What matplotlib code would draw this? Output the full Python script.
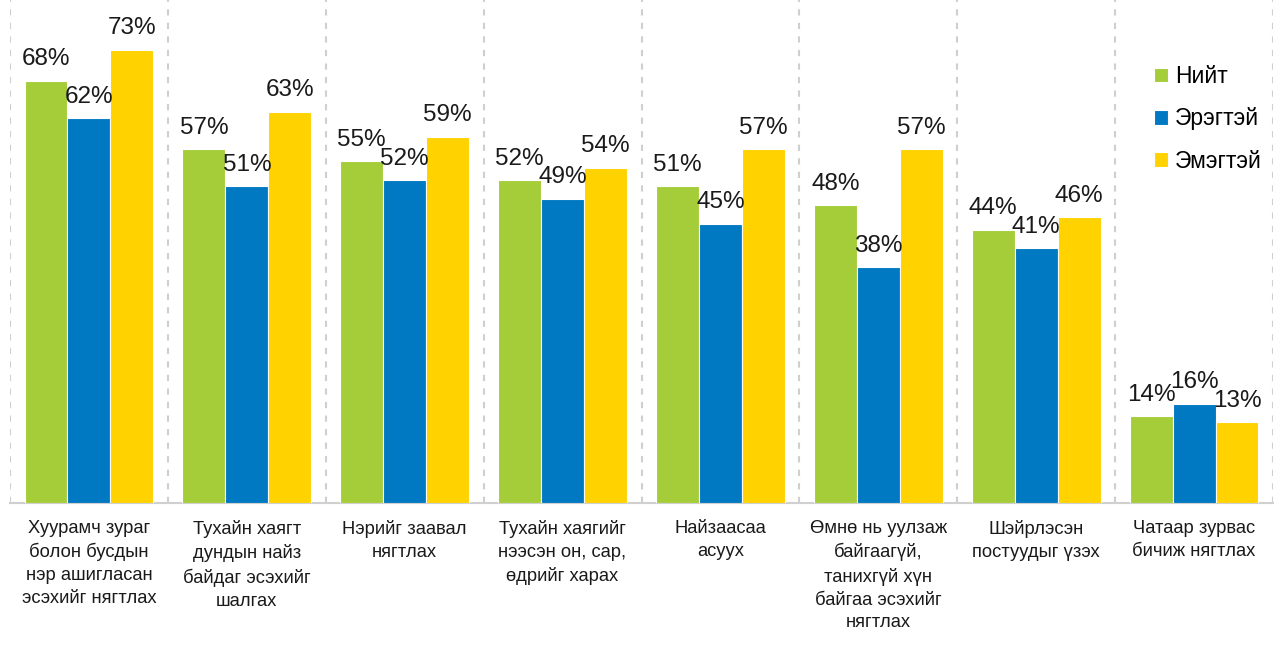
import matplotlib.pyplot as plt
import numpy as np

plt.rcParams['font.family'] = ['Liberation Sans', 'DejaVu Sans']

categories = [
    "Хуурамч зураг\nболон бусдын\nнэр ашигласан\nэсэхийг нягтлах",
    "Тухайн хаягт\nдундын найз\nбайдаг эсэхийг\nшалгах",
    "Нэрийг заавал\nнягтлах",
    "Тухайн хаягийг\nнээсэн он, сар,\nөдрийг харах",
    "Найзаасаа\nасуух",
    "Өмнө нь уулзаж\nбайгаагүй,\nтанихгүй хүн\nбайгаа эсэхийг\nнягтлах",
    "Шэйрлэсэн\nпостуудыг үзэх",
    "Чатаар зурвас\nбичиж нягтлах",
]
series_names = ["Нийт", "Эрэгтэй", "Эмэгтэй"]
total = [68, 57, 55, 52, 51, 48, 44, 14]
male = [62, 51, 52, 49, 45, 38, 41, 16]
female = [73, 63, 59, 54, 57, 57, 46, 13]
colors = ["#A5CD39", "#0079C2", "#FFD200"]

fig = plt.figure(figsize=(12.83, 6.48), dpi=100)
ax = fig.add_axes([10 / 1283, 1 - 503 / 648, 1263 / 1283, 503 / 648])

x = np.arange(len(categories))
w = 0.272
for k, (vals, name, c) in enumerate(zip([total, male, female], series_names, colors)):
    xs = x + (k - 1) * w
    ax.bar(xs, vals, w, color=c, edgecolor="white", linewidth=0.8, label=name, zorder=3)
    for xi, v in zip(xs, vals):
        ax.annotate(f"{v}%", (xi, v), xytext=(0, 11), textcoords="offset points",
                    ha="center", va="baseline", fontsize=17.5, color="#1a1a1a", zorder=4)

for b in np.arange(-0.5, len(categories), 1.0):
    ax.axvline(b, color="#CFCFCF", lw=1.5, ls=(0, (3, 3.5)), zorder=1)

ax.set_xlim(-0.5, len(categories) - 0.5)
ax.set_ylim(0, 81)
ax.set_yticks([])
for s in ["top", "left", "right"]:
    ax.spines[s].set_visible(False)
ax.spines["bottom"].set_color("#D0D0D0")
ax.spines["bottom"].set_linewidth(1.5)
ax.set_xticks(x)
ax.set_xticklabels(categories, fontsize=13.2, color="#1a1a1a", linespacing=1.45)
ax.tick_params(axis="x", length=0, pad=12)

fig.legend(loc="upper left", bbox_to_anchor=(1154 / 1283, 1 - 65 / 648), frameon=False,
           fontsize=16.5, handlelength=0.62, handleheight=0.62, handletextpad=0.3,
           labelspacing=0.85, borderpad=0, borderaxespad=0)

fig.savefig("out.png", dpi=100)
